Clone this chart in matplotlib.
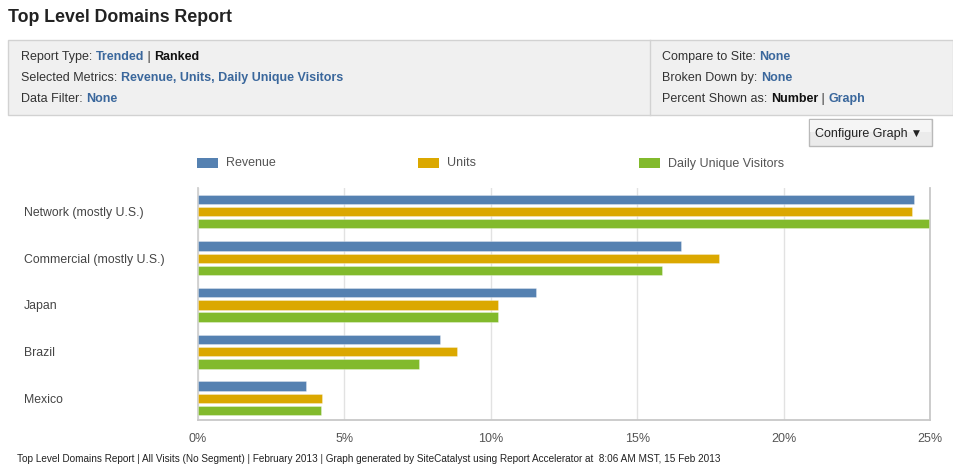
import numpy as np
import matplotlib
matplotlib.use("Agg")
import matplotlib.pyplot as plt
from matplotlib import font_manager
from matplotlib.patches import Rectangle

# ---- data ----
categories = ["Network (mostly U.S.)", "Commercial (mostly U.S.)", "Japan", "Brazil", "Mexico"]
series_names = ["Revenue", "Units", "Daily Unique Visitors"]
revenue = [24.45, 16.5, 11.55, 8.25, 3.7]
units = [24.4, 17.8, 10.25, 8.85, 4.25]
visitors = [24.95, 15.85, 10.25, 7.55, 4.2]
xticks = [0, 5, 10, 15, 20, 25]

colors = ["#5581b1", "#dba800", "#82ba2c"]
LINK = "#3a679c"
TXT = "#333333"

W, H = 954, 465
names = {f.name for f in font_manager.fontManager.ttflist}
SANS = "Liberation Sans" if "Liberation Sans" in names else "DejaVu Sans"
NARROW = "Liberation Sans Narrow" if "Liberation Sans Narrow" in names else SANS
plt.rcParams["font.family"] = [SANS, "DejaVu Sans"]

fig = plt.figure(figsize=(W / 100, H / 100), dpi=100, facecolor="white")
renderer = fig.canvas.get_renderer()


def fx(x):
    return x / W


def fy(y):
    return 1 - y / H


def rect(x0, y0, x1, y1, **kw):
    fig.add_artist(Rectangle((fx(x0), fy(y1)), (x1 - x0) / W, (y1 - y0) / H,
                             transform=fig.transFigure, **kw))


def runs(x, y, parts, size=9):
    """draw a line made of (text, color, weight) pieces one after another"""
    for s, c, w in parts:
        t = fig.text(fx(x), fy(y), s, color=c, fontweight=w, fontsize=size,
                     va="center", ha="left")
        x += t.get_window_extent(renderer).width


# ---- header ----
fig.text(fx(8), fy(18), "Top Level Domains Report", fontsize=12.8, fontweight="bold",
         color="#222222", va="center")

rect(8, 40, 953, 115, facecolor="#f0f0f0", edgecolor="#d2d2d2", lw=1)
fig.add_artist(plt.Line2D([fx(650), fx(650)], [fy(40), fy(115)],
                          transform=fig.transFigure, color="#d2d2d2", lw=1))

runs(21, 57, [("Report Type: ", TXT, "normal"), ("Trended", LINK, "bold"),
              (" | ", TXT, "normal"), ("Ranked", "#111111", "bold")])
runs(21, 78, [("Selected Metrics: ", TXT, "normal"),
              (", ".join(series_names), LINK, "bold")])
runs(21, 99, [("Data Filter: ", TXT, "normal"), ("None", LINK, "bold")])
runs(662, 57, [("Compare to Site: ", TXT, "normal"), ("None", LINK, "bold")])
runs(662, 78, [("Broken Down by: ", TXT, "normal"), ("None", LINK, "bold")])
runs(662, 99, [("Percent Shown as: ", TXT, "normal"), ("Number", "#111111", "bold"),
               (" | ", TXT, "normal"), ("Graph", LINK, "bold")])

# configure button
rect(809, 119, 932, 146, facecolor="#ebebeb", edgecolor="#b9b9b9", lw=1)
rect(810, 120, 931, 132, facecolor="#f5f5f5", edgecolor="none")
fig.text(fx(815), fy(134), "Configure Graph", fontsize=9, color="#222222", va="center")
fig.text(fx(913), fy(133), "\u25bc", fontsize=6.5, color="#222222", va="center",
         family="DejaVu Sans")

# ---- legend ----
leg_x = [197, 418, 639]
for x, name, c in zip(leg_x, series_names, colors):
    rect(x, 158, x + 21, 168, facecolor=c, edgecolor="none")
    fig.text(fx(x + 29), fy(163.5), name, fontsize=9, color="#555555", va="center")

# ---- chart ----
ax = fig.add_axes([fx(198), fy(420), (930 - 198) / W, (420 - 188) / H])
y = np.arange(len(categories))
off = 0.263
bh = 0.2
for k, (vals, c) in enumerate(zip([revenue, units, visitors], colors)):
    ax.barh(y + (k - 1) * off, vals, height=bh, color=c,
            edgecolor=(1, 1, 1, 0.35), lw=0.6, zorder=3)

ax.set_xlim(0, 25)
ax.set_ylim(4.465, -0.503)
ax.set_xticks(xticks)
ax.set_xticklabels([f"{v}%" for v in xticks], family=NARROW, fontsize=9,
                   color="#555555")
ax.tick_params(axis="x", length=0, pad=9)
ax.set_yticks(y)
ax.set_yticklabels([])
ax.tick_params(axis="y", length=0)
ax.grid(axis="x", color="#e2e2e2", lw=1, zorder=0)
ax.spines["top"].set_visible(False)
ax.spines["left"].set_color("#d0d0d0")
ax.spines["bottom"].set_color("#c8c8c8")
ax.spines["right"].set_color("#c8c8c8")
for sp in ("left", "bottom", "right"):
    ax.spines[sp].set_linewidth(1.3)

for yi, cat in zip(y, categories):
    ypx = 188 + (yi + 0.503) / (4.465 + 0.503) * (420 - 188)
    fig.text(fx(24), fy(ypx + 1.5), cat, fontsize=8.8, color="#444444", va="center")

# ---- footer ----
fig.text(fx(17), fy(459),
         "Top Level Domains Report | All Visits (No Segment) | February 2013 | "
         "Graph generated by SiteCatalyst using Report Accelerator at  8:06 AM MST, 15 Feb 2013",
         fontsize=7.2, family=NARROW, color="#222222", va="center")

fig.savefig("out.png", dpi=100, facecolor="white")
